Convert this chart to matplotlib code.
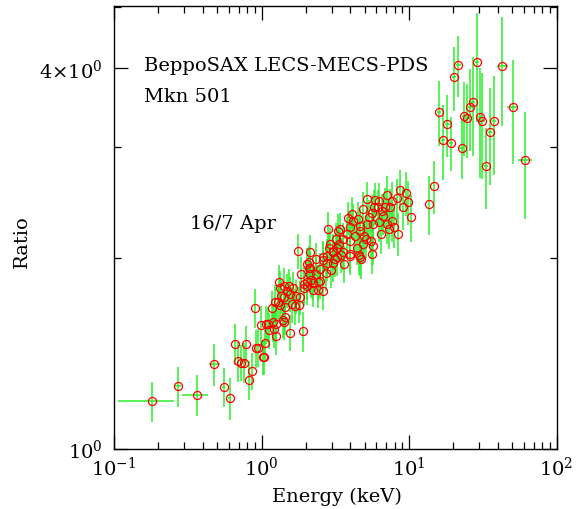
"""
Mkn 501, BeppoSAX LECS-MECS-PDS spectrum: ratio vs energy (16/7 Apr)
"""
import matplotlib
matplotlib.use('Agg')
import matplotlib.pyplot as plt
from matplotlib.ticker import NullFormatter

# =============================================================================
# DATA
# -----------------------------------------------------------------------------
# low energy points with visible energy bins
low_E    = [0.181, 0.272, 0.363, 0.479, 0.553, 0.607]
low_R    = [1.187, 1.254, 1.216, 1.359, 1.252, 1.201]
low_xerr = [0.074, 0.012, 0.073, 0.041, 0.015, 0.015]
low_yerr = [0.086, 0.090, 0.090, 0.104, 0.090, 0.090]

# dense 0.6 - 15 keV part
mid_E = [0.661, 0.790, 0.693, 0.728, 0.759, 0.858, 0.828, 0.954, 0.918, 1.017,
         1.043, 1.064, 0.897, 0.992, 1.078, 1.107, 1.197, 1.129, 1.246, 1.210,
         1.304, 1.343, 1.176, 1.231, 1.290, 1.414, 1.448, 1.399, 1.254, 1.551,
         1.920, 1.366, 1.430, 1.498, 1.543, 1.643, 1.722, 1.615, 1.692, 1.835,
         1.793, 1.844, 1.932, 1.953, 2.034, 2.119, 2.109, 2.132, 2.245, 2.408,
         2.327, 2.508, 2.624, 2.733, 2.798, 2.965, 3.068, 3.161, 3.271, 2.780,
         2.342, 2.624, 3.648, 3.459, 3.956, 4.728, 4.581, 1.335, 1.443, 1.421,
         1.568, 1.777, 2.132, 2.025, 2.089, 2.025, 2.156, 2.224, 2.404, 2.493,
         2.600, 2.811, 2.914, 2.855, 3.039, 3.266, 3.317, 3.186, 3.406, 3.877,
         4.089, 4.855, 5.216, 5.883, 5.791, 6.290, 6.193, 7.128, 6.877, 7.433,
         7.705, 8.255, 8.690, 9.543, 9.892, 9.065, 10.37, 4.193, 4.533, 4.654,
         5.167, 5.381, 5.586, 5.727, 6.290, 6.695, 6.429, 7.128, 7.319, 7.950,
         8.463, 7.633, 6.561, 5.727, 5.526, 4.954, 5.110, 4.654, 3.981, 3.781,
         3.586, 3.370, 3.981, 4.303, 4.900, 4.418, 3.981, 5.586, 4.654, 3.068,
         3.586, 13.73, 14.77]
mid_R = [1.466, 1.465, 1.376, 1.368, 1.368, 1.326, 1.284, 1.444, 1.442, 1.395,
         1.395, 1.470, 1.671, 1.569, 1.573, 1.573, 1.583, 1.539, 1.504, 1.543,
         1.834, 1.792, 1.666, 1.707, 1.707, 1.583, 1.612, 1.596, 1.573, 1.524,
         1.533, 1.745, 1.734, 1.776, 1.805, 1.794, 1.741, 1.692, 1.678, 1.734,
         1.688, 1.892, 1.820, 1.792, 1.807, 1.890, 1.970, 1.928, 1.825, 1.781,
         1.892, 1.842, 1.776, 1.894, 1.963, 1.913, 1.963, 1.996, 2.008, 2.013,
         1.994, 2.011, 1.958, 2.023, 2.013, 1.996, 2.023, 1.686, 1.672, 1.809,
         1.757, 2.055, 2.043, 1.958, 1.932, 1.835, 1.849, 1.783, 1.831, 1.922,
         1.989, 2.225, 2.106, 2.073, 2.043, 2.073, 2.211, 2.145, 2.222, 2.316,
         2.349, 2.392, 2.479, 2.472, 2.407, 2.460, 2.407, 2.515, 2.412, 2.407,
         2.460, 2.490, 2.564, 2.536, 2.454, 2.407, 2.321, 2.293, 2.307, 2.251,
         2.265, 2.321, 2.355, 2.265, 2.279, 2.335, 2.185, 2.265, 2.225, 2.243,
         2.185, 2.293, 2.372, 2.093, 2.132, 2.168, 2.145, 2.006, 2.238, 2.185,
         2.145, 2.106, 2.132, 2.170, 2.106, 2.080, 2.030, 2.030, 2.211, 2.055,
         2.043, 2.436, 2.599]
mid_yerr = [0.11, 0.10, 0.10, 0.09, 0.10, 0.09, 0.09, 0.10, 0.10, 0.09,
            0.09, 0.10, 0.12, 0.11, 0.11, 0.10, 0.11, 0.10, 0.10, 0.10,
            0.12, 0.12, 0.11, 0.11, 0.11, 0.10, 0.10, 0.10, 0.10, 0.10,
            0.11, 0.11, 0.11, 0.11, 0.12, 0.11, 0.11, 0.11, 0.11, 0.11,
            0.11, 0.12, 0.12, 0.11, 0.12, 0.12, 0.12, 0.12, 0.11, 0.11,
            0.12, 0.12, 0.12, 0.12, 0.12, 0.12, 0.13, 0.13, 0.13, 0.13,
            0.12, 0.12, 0.13, 0.13, 0.13, 0.14, 0.14, 0.11, 0.11, 0.12,
            0.11, 0.13, 0.13, 0.12, 0.12, 0.12, 0.12, 0.11, 0.12, 0.12,
            0.13, 0.14, 0.13, 0.13, 0.13, 0.13, 0.14, 0.13, 0.14, 0.14,
            0.15, 0.15, 0.16, 0.16, 0.16, 0.17, 0.16, 0.18, 0.17, 0.17,
            0.18, 0.18, 0.19, 0.20, 0.20, 0.19, 0.20, 0.14, 0.15, 0.14,
            0.15, 0.15, 0.16, 0.15, 0.16, 0.16, 0.15, 0.16, 0.16, 0.17,
            0.17, 0.17, 0.16, 0.14, 0.14, 0.14, 0.14, 0.13, 0.14, 0.14,
            0.13, 0.13, 0.13, 0.14, 0.14, 0.13, 0.13, 0.14, 0.14, 0.13,
            0.13, 0.26, 0.25]

# PDS (hard X-ray) points
pds_E    = [15.97, 17.00, 18.19, 19.27, 20.28, 21.59, 22.77, 23.60, 24.85,
            25.92, 27.04, 28.91, 30.44, 31.40, 33.43, 35.42, 37.70, 42.91,
            50.72, 61.44]
pds_R    = [3.412, 3.080, 3.262, 3.046, 3.867, 4.045, 2.985, 3.355, 3.330,
            3.473, 3.537, 4.089, 3.342, 3.301, 2.802, 3.164, 3.294, 4.025,
            3.469, 2.857]
pds_xerr = [0.6, 0.6, 0.7, 0.7, 0.7, 0.8, 0.8, 0.8, 0.9,
            0.9, 0.9, 1.0, 1.0, 1.1, 1.1, 1.2, 1.2, 3.7,
            4.4, 6.7]
pds_yerr = [0.40, 0.42, 0.37, 0.30, 0.45, 0.45, 0.32, 0.45, 0.45,
            0.52, 0.63, 0.80, 0.66, 0.63, 0.41, 0.55, 0.59, 0.79,
            0.65, 0.55]

# =============================================================================
# PLOT
# -----------------------------------------------------------------------------
plt.rcParams['font.family'] = ['DejaVu Serif']
plt.rcParams['mathtext.fontset'] = 'dejavuserif'

green = '#2bef2b'
fsize = 14

fig = plt.figure(figsize=(5.8, 5.1), dpi=100)
ax = fig.add_axes([114 / 580, 1 - 449.5 / 510, 442.5 / 580, 442.8 / 510])
ax.set_xscale('log')
ax.set_yscale('log')

groups = [(low_E, low_R, low_xerr, low_yerr),
          (mid_E, mid_R, None, mid_yerr),
          (pds_E, pds_R, pds_xerr, pds_yerr)]

# error bars first, circles on top
for E, R, xe, ye in groups:
    ax.errorbar(E, R, xerr=xe, yerr=ye, fmt='none', ecolor=green,
                elinewidth=1.1, capsize=0)
for E, R, xe, ye in groups:
    ax.plot(E, R, 'o', ls='', mfc='none', mec='red', ms=5.8, mew=0.9)

ax.set_xlim(0.1, 100)
ax.set_ylim(1, 5.02)

# ticks
ax.set_xticks([0.1, 1, 10, 100],
              labels=[r'$10^{-1}$', r'$10^{0}$', r'$10^{1}$', r'$10^{2}$'])
ax.set_xticks([m * d for d in (0.1, 1, 10) for m in range(2, 10)], minor=True)
ax.xaxis.set_minor_formatter(NullFormatter())
ax.set_yticks([1, 4], labels=[r'$10^{0}$', r'$4{\times}10^{0}$'])
ax.set_yticks([2, 3, 5], minor=True)
ax.yaxis.set_minor_formatter(NullFormatter())

ax.tick_params(which='both', direction='in', top=True, right=True,
               width=0.9, labelsize=fsize)
ax.tick_params(which='major', length=10)
ax.tick_params(which='minor', length=5)
ax.tick_params(axis='x', pad=5)
ax.tick_params(axis='y', pad=8)
for s in ax.spines.values():
    s.set_linewidth(1.0)

# annotations
ax.text(0.0687, 0.855, 'BeppoSAX LECS-MECS-PDS', transform=ax.transAxes,
        fontsize=fsize, va='baseline')
ax.text(0.0687, 0.785, 'Mkn 501', transform=ax.transAxes,
        fontsize=fsize, va='baseline')
ax.text(0.172, 0.498, '16/7 Apr', transform=ax.transAxes,
        fontsize=fsize, va='baseline')

fig.text(337 / 580, 1 - 497 / 510, 'Energy (keV)', fontsize=fsize,
         ha='center', va='center')
fig.text(22 / 580, 1 - 242 / 510, 'Ratio', fontsize=fsize, rotation=90,
         ha='center', va='center')

plt.savefig('out.png', dpi=100)
